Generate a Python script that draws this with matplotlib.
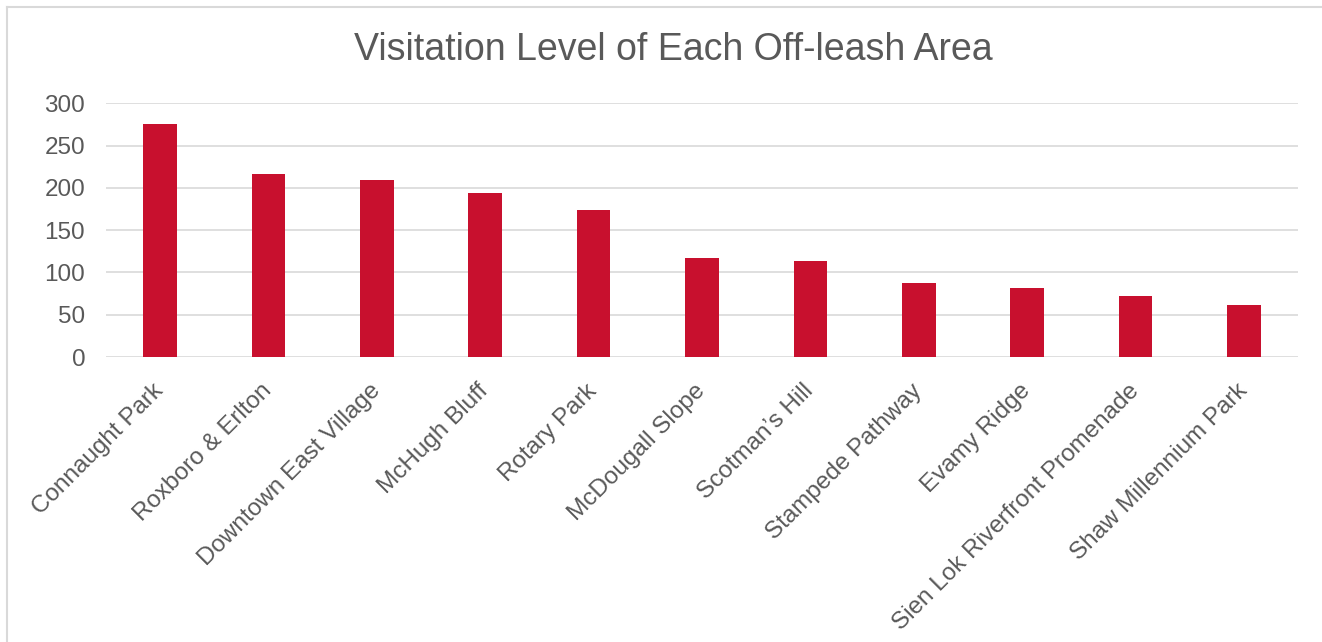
import matplotlib.pyplot as plt
from matplotlib.lines import Line2D

# Данные
areas = [
    "Connaught Park", "Roxboro & Erlton", "Downtown East Village",
    "McHugh Bluff", "Rotary Park", "McDougall Slope", "Scotman\u2019s Hill",
    "Stampede Pathway", "Evamy Ridge", "Sien Lok Riverfront Promenade",
    "Shaw Millennium Park",
]
visits = [276, 216, 209, 194, 174, 117, 114, 87, 82, 72, 62]
y_ticks = [0, 50, 100, 150, 200, 250, 300]

plt.rcParams['font.family'] = ['Liberation Sans', 'DejaVu Sans']

W, H = 1322, 642
fig = plt.figure(figsize=(W / 100, H / 100), dpi=100)

# Оси в пикселях исходника
left, right, top, bottom = 106, 1298, 103.3, 357
ax = fig.add_axes([left / W, 1 - bottom / H, (right - left) / W, (bottom - top) / H])

x = range(len(areas))
ax.bar(x, visits, width=0.31, color='#C8102E', zorder=3)

ax.set_xlim(-0.5, len(areas) - 0.5)
ax.set_ylim(0, 300)
ax.set_yticks(y_ticks)
ax.set_yticklabels([str(v) for v in y_ticks], fontsize=17.5, color='#595959')
ax.set_xticks(list(x))
ax.set_xticklabels(areas, rotation=45, ha='right', va='center',
                   rotation_mode='anchor', fontsize=17.5, color='#595959')
ax.tick_params(axis='both', length=0)
ax.tick_params(axis='y', pad=15)
ax.tick_params(axis='x', pad=22)

ax.grid(axis='y', color='#d9d9d9', linewidth=1.2, zorder=0)
for s in ax.spines.values():
    s.set_visible(False)

fig.text(673 / W, 1 - 50 / H, "Visitation Level of Each Off-leash Area",
         ha='center', va='center', fontsize=27, color='#595959')

# Рамка области диаграммы (видны только верх и левый край)
fig.add_artist(Line2D([7 / W, 1], [1 - 7 / H, 1 - 7 / H], color='#d9d9d9', linewidth=1.5))
fig.add_artist(Line2D([7 / W, 7 / W], [0, 1 - 7 / H], color='#d9d9d9', linewidth=1.5))

fig.savefig('out.png', dpi=100)
